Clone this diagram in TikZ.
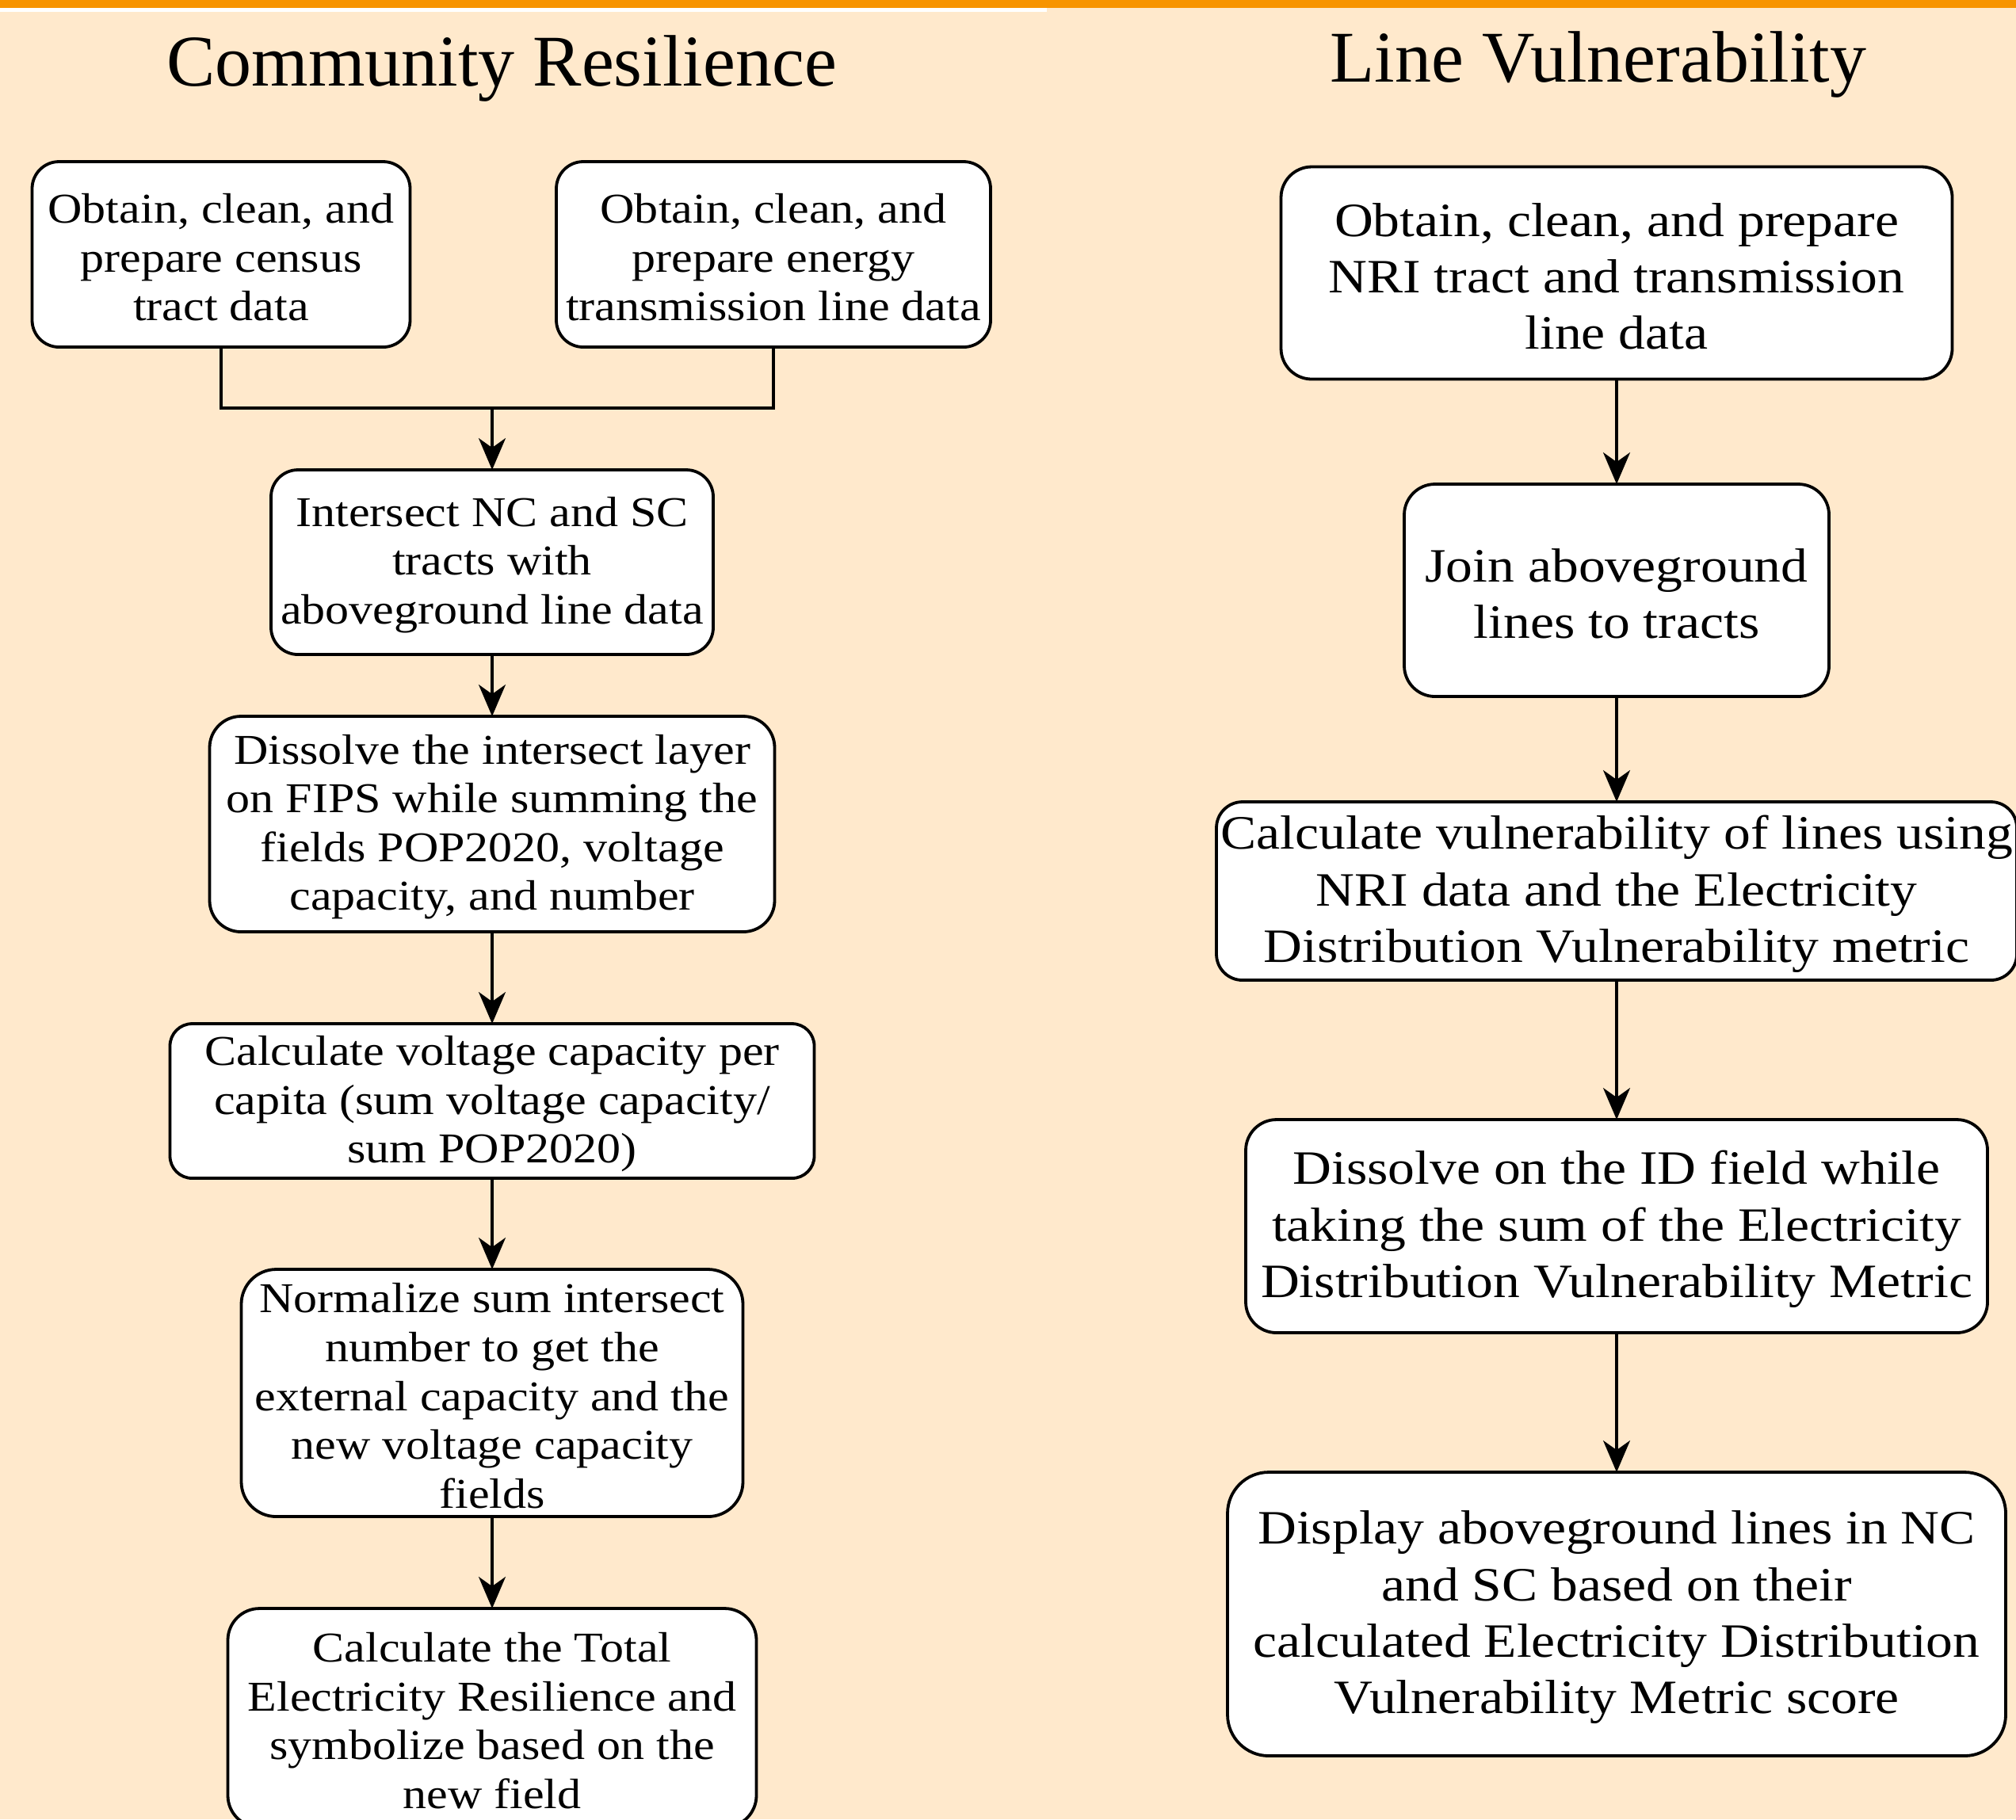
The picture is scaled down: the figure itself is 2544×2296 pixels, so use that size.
\documentclass[tikz,border=0pt]{standalone}
\usepackage{fontspec}
\setmainfont{Liberation Serif}[FakeStretch=1.12]
\newfontfamily\ttlfamily{Liberation Serif}
\usetikzlibrary{arrows.meta}
\definecolor{bgcol}{RGB}{255,233,204}
\definecolor{barcol}{RGB}{247,148,0}
\newcommand{\fsleft}{\fontsize{13.4}{15.4}\selectfont}
\newcommand{\fsright}{\fontsize{15.1}{17.8}\selectfont}
\newcommand{\fstitle}{\ttlfamily\fontsize{23}{27}\selectfont}
\newcommand{\dnl}{\rule{0pt}{0.83em}}
\tikzset{
  box/.style={draw=black, fill=white, line width=0.95pt, align=center, inner sep=0pt, outer sep=0pt},
  lbox/.style={box, font=\fsleft},
  rbox/.style={box, font=\fsright},
  ttl/.style={font=\fstitle, inner sep=0pt, anchor=base},
  conn/.style={line width=0.85pt, draw=black},
  arr/.style={conn, -{Stealth[length=10pt,width=8.5pt,inset=3pt]}},
}
\begin{document}
\begin{tikzpicture}[x=0.25pt, y=-0.25pt]
\useasboundingbox (0,0) rectangle (2544,2296);
\clip (0,0) rectangle (2544,2296);
\fill[bgcol] (0,0) rectangle (2544,2296);
\fill[barcol] (0,0) rectangle (2544,10);
\fill[white] (0,10) rectangle (1321,15);

% titles
\node[ttl] (t1) at (633,108) {Community Resilience};
\node[ttl] (t2) at (2017,103) {Line Vulnerability};

% left column
\node[lbox, minimum width=119.25pt, minimum height=58.5pt, rounded corners=8.5pt] (b1) at (279,321)
  {\dnl Obtain, clean, and\\prepare census\\tract data};
\node[lbox, minimum width=137pt, minimum height=58.5pt, rounded corners=8.5pt] (b2) at (976,321)
  {\dnl Obtain, clean, and\\prepare energy\\transmission line data};
\node[lbox, minimum width=139.5pt, minimum height=58.25pt, rounded corners=8.5pt] (b3) at (621,709.5)
  {\dnl Intersect NC and SC\\tracts with\\aboveground line data};
\node[lbox, minimum width=178.25pt, minimum height=68pt, rounded corners=9.9pt] (b4) at (621,1040)
  {\dnl Dissolve the intersect layer\\on FIPS while summing the\\fields POP2020, voltage\\capacity, and number};
\node[lbox, minimum width=203.25pt, minimum height=48.75pt, rounded corners=7pt] (b5) at (621,1389.5)
  {\dnl Calculate voltage capacity per\\capita (sum voltage capacity/\\sum POP2020)};
\node[lbox, minimum width=158.25pt, minimum height=78pt, rounded corners=11pt] (b6) at (621,1758)
  {\dnl Normalize sum intersect\\number to get the\\external capacity and the\\new voltage capacity\\fields};
\node[lbox, minimum width=166.75pt, minimum height=69pt, rounded corners=10pt] (b7) at (621,2168)
  {\dnl Calculate the Total\\Electricity Resilience and\\symbolize based on the\\new field};

\coordinate (j) at (621,515);
\draw[conn] (b1.south) |- (j);
\draw[conn] (b2.south) |- (j);
\draw[arr] (j) -- (b3.north);
\draw[arr] (b3.south) -- (b4.north);
\draw[arr] (b4.south) -- (b5.north);
\draw[arr] (b5.south) -- (b6.north);
\draw[arr] (b6.south) -- (b7.north);

% right column
\node[rbox, minimum width=211.75pt, minimum height=67pt, rounded corners=9.7pt] (r1) at (2040,344.5)
  {\dnl Obtain, clean, and prepare\\NRI tract and transmission\\line data};
\node[rbox, minimum width=134pt, minimum height=67pt, rounded corners=9.7pt] (r2) at (2040,745)
  {\dnl Join aboveground\\lines to tracts};
\node[rbox, minimum width=252.5pt, minimum height=56.25pt, rounded corners=8.2pt] (r3) at (2040,1124.5)
  {\dnl Calculate vulnerability of lines using\\NRI data and the Electricity\\Distribution Vulnerability metric};
\node[rbox, minimum width=234pt, minimum height=67.25pt, rounded corners=9.7pt] (r4) at (2040,1547.5)
  {\dnl Dissolve on the ID field while\\taking the sum of the Electricity\\Distribution Vulnerability Metric};
\node[rbox, minimum width=245.5pt, minimum height=89.5pt, rounded corners=13pt] (r5) at (2040,2037)
  {\dnl Display aboveground lines in NC\\and SC based on their\\calculated Electricity Distribution\\Vulnerability Metric score};

\draw[arr] (r1.south) -- (r2.north);
\draw[arr] (r2.south) -- (r3.north);
\draw[arr] (r3.south) -- (r4.north);
\draw[arr] (r4.south) -- (r5.north);
\end{tikzpicture}
\end{document}
